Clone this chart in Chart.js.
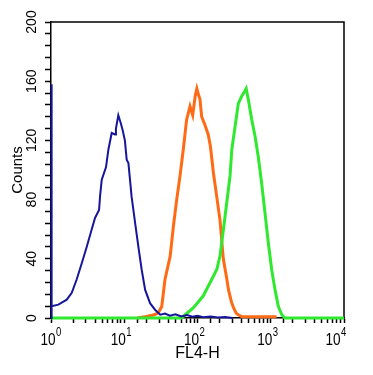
<!DOCTYPE html>
<html>
<head>
<meta charset="utf-8">
<script src="https://cdn.jsdelivr.net/npm/chart.js@4.4.1/dist/chart.umd.min.js"></script>
<style>
  html, body { margin: 0; padding: 0; background: #fff; }
  #wrap { width: 373px; height: 375px; }
</style>
</head>
<body>
<div id="wrap"><canvas id="Histo" width="373" height="375"></canvas></div>
<script>
/* histogram values (FL4-H channel, counts) */
const blueX = [1, 1, 1.03, 1.03, 1.26, 1.64, 1.92, 2.24, 2.63, 3.07, 3.6, 3.99, 4.53, 4.67, 4.93, 5.64, 6.07, 6.74, 7.5, 7.7, 8.3, 8.95, 9.5, 10.2, 10.8, 11.4, 12.6, 14.1, 15.6, 17.3, 19.3, 22.5, 26.3, 31, 36, 42, 50, 60, 72, 85, 100, 120, 150, 190, 240, 300];
const blueY = [0, 158, 158, 8, 9, 12.4, 17, 26, 37, 48, 60, 67.6, 73, 82, 93.4, 102, 113.7, 125, 124, 128, 137, 131.8, 127, 120, 107, 104.7, 82, 64, 48, 32.6, 19, 10, 5.6, 2.2, 3, 1.5, 2.5, 1, 2, 0.8, 1.5, 0.5, 1, 0.4, 0.6, 0];

const orangeX = [15, 20, 25, 29, 32.5, 36, 42.3, 46.9, 52, 57.6, 63.9, 71, 79, 86, 93, 98, 103, 108, 114, 125, 140, 150, 165, 183, 203, 225, 250, 265, 290, 310, 340, 361, 400, 500, 700, 1000, 1200];
const orangeY = [0, 1, 2, 3.4, 7.8, 26, 41.6, 62, 80, 95.7, 113.7, 134, 143, 137, 150, 155, 151, 148, 136, 131, 124, 116, 98, 82, 66, 40, 27, 19, 11, 7, 3, 2.2, 1, 0.8, 0.8, 0.8, 0.8];

const greenX = [1, 60, 68, 88, 120, 160, 184, 203, 226, 251, 278, 294, 326, 361, 403, 440, 462, 495, 550, 610, 675, 752, 834, 925, 1030, 1145, 1270, 1415, 1560, 10000];
const greenY = [0, 0, 2.2, 7, 15, 27, 33, 42, 60, 78, 96, 113.7, 129.5, 145, 150, 153, 155, 147.5, 134, 123, 109, 91, 71, 51, 32.6, 19, 7.8, 2.2, 0, 0];

/* decades that get a "10^n" label */
const decades = [0, 1, 2, 3, 4];

const FONT = "'Liberation Sans', Arial, sans-serif";
Chart.defaults.font.family = FONT;
Chart.defaults.color = "#000";

/**
 * zip two arrays into {x, y} points
 */
function toPoints(xs, ys){
  return xs.map((v, i) => ({ x: v, y: ys[i] }));
}

/* draws the top and right edge of the box */
const framePlugin = {
  id: "frame",
  beforeDatasetsDraw(chart){
    const { ctx, chartArea: a } = chart;
    ctx.save();
    ctx.strokeStyle = "#000";
    ctx.lineWidth = 1.5;
    ctx.beginPath();
    ctx.moveTo(a.left, a.top);
    ctx.lineTo(a.right, a.top);
    ctx.lineTo(a.right, a.bottom);
    ctx.stroke();
    ctx.restore();
  }
};

/* 10^n labels with a raised exponent, placed with the log scale */
const decadeLabels = {
  id: "decadeLabels",
  afterDraw(chart){
    const { ctx } = chart;
    const xs = chart.scales.x;
    ctx.save();
    ctx.fillStyle = "#000";
    ctx.textBaseline = "alphabetic";
    ctx.textAlign = "left";
    decades.forEach((d, i) => {
      let shift = -3;
      if (i == 0) shift = 0;
      if (i == decades.length - 1) shift = -8;
      const px = xs.getPixelForValue(Math.pow(10, d)) + shift;
      const left = px - 10.5;
      ctx.save();
      ctx.translate(left, xs.bottom - 30.5);
      ctx.scale(0.8, 1);
      ctx.font = "17px " + FONT;
      ctx.fillText("10", 0, 0);
      const w = ctx.measureText("10").width;
      ctx.font = "12px " + FONT;
      ctx.fillText(String(d), w + 0.5, -8.5);
      ctx.restore();
    });
    ctx.restore();
  }
};

const myChart = new Chart(document.getElementById("Histo"), {
  type: "line",
  plugins: [framePlugin, decadeLabels],
  data: {
    datasets: [
      {
        data: toPoints(blueX, blueY),
        borderColor: "#16169a",
        borderWidth: 2,
      },
      {
        data: toPoints(greenX, greenY),
        borderColor: "#2fe82f",
        borderWidth: 3,
      },
      {
        data: toPoints(orangeX, orangeY),
        borderColor: "#ff6a14",
        borderWidth: 3,
      },
    ],
  },
  options: {
    responsive: false,
    animation: false,
    layout: { padding: { top: 22, right: 29, left: 0, bottom: 0 } },
    elements: {
      point: { radius: 0 },
      line: { tension: 0, borderJoinStyle: "miter", fill: false },
    },
    datasets: { line: { clip: false } },
    plugins: {
      legend: { display: false },
      tooltip: { enabled: false },
    },
    scales: {
      x: {
        type: "logarithmic",
        min: 1,
        max: 10000,
        afterFit: (s) => { s.height = 57; },
        ticks: {
          autoSkip: false,
          callback: () => "",
        },
        grid: {
          drawOnChartArea: false,
          tickLength: 5,
          tickColor: "#000",
          tickWidth: 1.5,
        },
        border: { color: "#000", width: 1.5 },
        title: {
          display: true,
          text: "FL4-H",
          font: { size: 16 },
          padding: { top: 0, bottom: 12 },
        },
      },
      y: {
        min: 0,
        max: 200,
        afterFit: (s) => { s.width = 51; },
        ticks: {
          stepSize: 8,
          autoSkip: false,
          minRotation: 90,
          maxRotation: 90,
          crossAlign: "center",
          padding: 1,
          font: { size: 14 },
          callback: (v) => (v % 40 == 0 ? v : ""),
        },
        grid: {
          drawOnChartArea: false,
          tickLength: 6,
          tickColor: "#000",
          tickWidth: 1.5,
        },
        border: { color: "#000", width: 1.5 },
        title: {
          display: true,
          text: "Counts",
          font: { size: 15 },
          padding: { top: 9, bottom: 0 },
        },
      },
    },
  },
});
</script>
</body>
</html>
